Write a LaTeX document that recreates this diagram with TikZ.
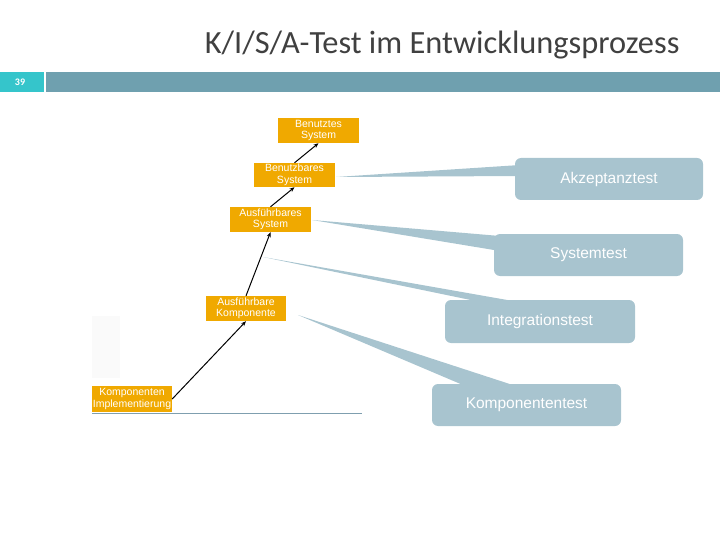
\documentclass[tikz,border=0pt]{standalone}
\usepackage{fontspec}
\usetikzlibrary{arrows.meta}
\setmainfont{Liberation Sans}
\newfontfamily\titlefont{Carlito}
\definecolor{orangebox}{HTML}{F0A900}
\definecolor{callout}{HTML}{A8C4CF}
\definecolor{barcol}{HTML}{6FA0AF}
\definecolor{cyancol}{HTML}{35C5CB}
\definecolor{basecol}{HTML}{7F9FAF}
\definecolor{titlecol}{HTML}{404040}
\begin{document}
\begin{tikzpicture}[x=1pt,y=-1pt,
  stage/.style={fill=orangebox,text=white,inner sep=0pt,align=center,
    font=\fontsize{10.5}{11.5}\selectfont},
  calloutbox/.style={fill=callout,rounded corners=6pt,text=white,inner sep=0pt,
    font=\fontsize{15.5}{17}\selectfont},
  wedge/.style={fill=callout},
  flow/.style={-{Stealth[length=5pt,width=4pt]},line width=1pt,black}]
\useasboundingbox (0,0) rectangle (720,540);
% title and header
\node[font=\titlefont\fontsize{32.4}{36}\selectfont,text=titlecol,anchor=east] (title) at (683,45) {K/I/S/A-Test im Entwicklungsprozess};
\fill[cyancol] (0,72) rectangle (44,92);
\fill[barcol] (46,72) rectangle (720,92);
\node[font=\titlefont\bfseries\fontsize{10}{11}\selectfont,text=white] (num) at (20,82) {39};
% faint rectangle
\fill[black!2] (92,316) rectangle (120,378);
% baseline
\draw[basecol,line width=0.8pt] (92,413.5) -- (362,413.5);
% wedges
\coordinate (t1) at (336,177);
\coordinate (t1a) at (520,165);
\coordinate (t1b) at (520,176);
\coordinate (t2) at (312,220);
\coordinate (t2a) at (500,236);
\coordinate (t2b) at (500,251);
\coordinate (t3) at (263,257);
\coordinate (t3a) at (530,304);
\coordinate (t3b) at (490,304);
\coordinate (t4) at (298,315);
\coordinate (t4a) at (522,388);
\coordinate (t4b) at (470,388);
\fill[wedge] (t1) -- (t1a) -- (t1b) -- cycle;
\fill[wedge] (t2) -- (t2a) -- (t2b) -- cycle;
\fill[wedge] (t3) -- (t3a) -- (t3b) -- cycle;
\fill[wedge] (t4) -- (t4a) -- (t4b) -- cycle;
% callouts
\node[calloutbox,minimum width=188pt,minimum height=42pt] (akz) at (609,179) {Akzeptanztest};
\node[calloutbox,minimum width=189pt,minimum height=42pt] (sys) at (588.5,255) {Systemtest};
\node[calloutbox,minimum width=190pt,minimum height=43pt] (int) at (540,321.5) {Integrationstest};
\node[calloutbox,minimum width=189pt,minimum height=42pt] (kom) at (526.5,405) {Komponententest};
% stages
\node[stage,minimum width=81pt,minimum height=25pt] (bu) at (318.5,130.5) {Benutztes\\System};
\node[stage,minimum width=81pt,minimum height=24pt] (bs) at (294.5,175) {Benutzbares\\System};
\node[stage,minimum width=81pt,minimum height=25pt] (as) at (270.5,219.5) {Ausführbares\\System};
\node[stage,minimum width=80pt,minimum height=25pt] (ak) at (246,308.5) {Ausführbare\\Komponente};
\node[stage,minimum width=80pt,minimum height=26pt] (ki) at (132,399) {Komponenten\\Implementierung};
% flow arrows
\draw[flow] (ki.east) -- (ak.south);
\draw[flow] (ak.north) -- (as.south);
\draw[flow] (as.north) -- (bs.south);
\draw[flow] (bs.north) -- (bu.south);
\end{tikzpicture}
\end{document}
